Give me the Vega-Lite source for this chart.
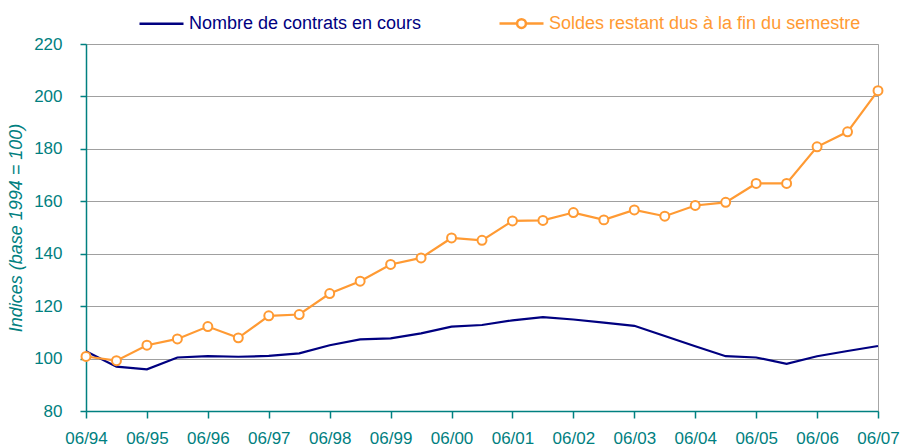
{
  "$schema": "https://vega.github.io/schema/vega-lite/v6.json",
  "width": 792,
  "height": 367,
  "autosize": "none",
  "padding": {"left": 86, "top": 44, "right": 23, "bottom": 37},
  "background": "white",
  "config": {
    "font": "Liberation Sans",
    "view": {"stroke": "#A6A6A6", "strokeWidth": 1}
  },
  "data": {
    "values": [
      {"periode": "06/94", "serie": "Nombre de contrats en cours", "indice": 102.8},
      {"periode": "12/94", "serie": "Nombre de contrats en cours", "indice": 96.9},
      {"periode": "06/95", "serie": "Nombre de contrats en cours", "indice": 95.9},
      {"periode": "12/95", "serie": "Nombre de contrats en cours", "indice": 100.4},
      {"periode": "06/96", "serie": "Nombre de contrats en cours", "indice": 100.9},
      {"periode": "12/96", "serie": "Nombre de contrats en cours", "indice": 100.7},
      {"periode": "06/97", "serie": "Nombre de contrats en cours", "indice": 101.0},
      {"periode": "12/97", "serie": "Nombre de contrats en cours", "indice": 102.0},
      {"periode": "06/98", "serie": "Nombre de contrats en cours", "indice": 105.1},
      {"periode": "12/98", "serie": "Nombre de contrats en cours", "indice": 107.3},
      {"periode": "06/99", "serie": "Nombre de contrats en cours", "indice": 107.7},
      {"periode": "12/99", "serie": "Nombre de contrats en cours", "indice": 109.6},
      {"periode": "06/00", "serie": "Nombre de contrats en cours", "indice": 112.2},
      {"periode": "12/00", "serie": "Nombre de contrats en cours", "indice": 112.8},
      {"periode": "06/01", "serie": "Nombre de contrats en cours", "indice": 114.6},
      {"periode": "12/01", "serie": "Nombre de contrats en cours", "indice": 115.8},
      {"periode": "06/02", "serie": "Nombre de contrats en cours", "indice": 114.9},
      {"periode": "12/02", "serie": "Nombre de contrats en cours", "indice": 113.7},
      {"periode": "06/03", "serie": "Nombre de contrats en cours", "indice": 112.5},
      {"periode": "12/03", "serie": "Nombre de contrats en cours", "indice": 108.6},
      {"periode": "06/04", "serie": "Nombre de contrats en cours", "indice": 104.7},
      {"periode": "12/04", "serie": "Nombre de contrats en cours", "indice": 100.9},
      {"periode": "06/05", "serie": "Nombre de contrats en cours", "indice": 100.4},
      {"periode": "12/05", "serie": "Nombre de contrats en cours", "indice": 98.0},
      {"periode": "06/06", "serie": "Nombre de contrats en cours", "indice": 100.9},
      {"periode": "12/06", "serie": "Nombre de contrats en cours", "indice": 102.9},
      {"periode": "06/07", "serie": "Nombre de contrats en cours", "indice": 104.8},
      {"periode": "06/94", "serie": "Soldes restant dus à la fin du semestre", "indice": 100.8},
      {"periode": "12/94", "serie": "Soldes restant dus à la fin du semestre", "indice": 99.2},
      {"periode": "06/95", "serie": "Soldes restant dus à la fin du semestre", "indice": 105.1},
      {"periode": "12/95", "serie": "Soldes restant dus à la fin du semestre", "indice": 107.5},
      {"periode": "06/96", "serie": "Soldes restant dus à la fin du semestre", "indice": 112.2},
      {"periode": "12/96", "serie": "Soldes restant dus à la fin du semestre", "indice": 107.9},
      {"periode": "06/97", "serie": "Soldes restant dus à la fin du semestre", "indice": 116.3},
      {"periode": "12/97", "serie": "Soldes restant dus à la fin du semestre", "indice": 116.8},
      {"periode": "06/98", "serie": "Soldes restant dus à la fin du semestre", "indice": 124.8},
      {"periode": "12/98", "serie": "Soldes restant dus à la fin du semestre", "indice": 129.5},
      {"periode": "06/99", "serie": "Soldes restant dus à la fin du semestre", "indice": 135.9},
      {"periode": "12/99", "serie": "Soldes restant dus à la fin du semestre", "indice": 138.4},
      {"periode": "06/00", "serie": "Soldes restant dus à la fin du semestre", "indice": 146.0},
      {"periode": "12/00", "serie": "Soldes restant dus à la fin du semestre", "indice": 145.1},
      {"periode": "06/01", "serie": "Soldes restant dus à la fin du semestre", "indice": 152.5},
      {"periode": "12/01", "serie": "Soldes restant dus à la fin du semestre", "indice": 152.7},
      {"periode": "06/02", "serie": "Soldes restant dus à la fin du semestre", "indice": 155.7},
      {"periode": "12/02", "serie": "Soldes restant dus à la fin du semestre", "indice": 152.9},
      {"periode": "06/03", "serie": "Soldes restant dus à la fin du semestre", "indice": 156.7},
      {"periode": "12/03", "serie": "Soldes restant dus à la fin du semestre", "indice": 154.3},
      {"periode": "06/04", "serie": "Soldes restant dus à la fin du semestre", "indice": 158.4},
      {"periode": "12/04", "serie": "Soldes restant dus à la fin du semestre", "indice": 159.6},
      {"periode": "06/05", "serie": "Soldes restant dus à la fin du semestre", "indice": 166.8},
      {"periode": "12/05", "serie": "Soldes restant dus à la fin du semestre", "indice": 166.8},
      {"periode": "06/06", "serie": "Soldes restant dus à la fin du semestre", "indice": 180.8},
      {"periode": "12/06", "serie": "Soldes restant dus à la fin du semestre", "indice": 186.5},
      {"periode": "06/07", "serie": "Soldes restant dus à la fin du semestre", "indice": 202.2}
    ]
  },
  "encoding": {
    "x": {
      "field": "periode",
      "type": "ordinal",
      "sort": null,
      "scale": {"type": "point", "padding": 0},
      "axis": {
        "title": null,
        "values": ["06/94", "06/95", "06/96", "06/97", "06/98", "06/99", "06/00", "06/01", "06/02", "06/03", "06/04", "06/05", "06/06", "06/07"],
        "labelAngle": 0,
        "labelFontSize": 17,
        "labelColor": "#008080",
        "labelPadding": 12,
        "tickColor": "#008080",
        "tickSize": 7,
        "tickWidth": 1.5,
        "domainColor": "#008080",
        "domainWidth": 1.5,
        "grid": false
      }
    },
    "y": {
      "field": "indice",
      "type": "quantitative",
      "scale": {"domain": [80, 220], "nice": false, "zero": false},
      "axis": {
        "title": "Indices (base 1994 = 100)",
        "titleFontSize": 18,
        "titleFontStyle": "italic",
        "titleFontWeight": "normal",
        "titleColor": "#008080",
        "titlePadding": 8,
        "values": [80, 100, 120, 140, 160, 180, 200, 220],
        "labelFontSize": 17,
        "labelColor": "#008080",
        "labelPadding": 18,
        "tickColor": "#008080",
        "tickSize": 6,
        "tickWidth": 1.5,
        "domainColor": "#008080",
        "domainWidth": 1.5,
        "gridColor": "#A0A0A0",
        "gridWidth": 1,
        "gridOpacity": 1
      }
    }
  },
  "layer": [
    {
      "mark": {"type": "line", "strokeWidth": 2.2},
      "encoding": {
        "color": {
          "field": "serie",
          "type": "nominal",
          "scale": {
            "domain": ["Nombre de contrats en cours", "Soldes restant dus à la fin du semestre"],
            "range": ["#000080", "#FF9A33"]
          },
          "legend": {
            "title": null,
            "orient": "none",
            "legendX": 52,
            "legendY": -44,
            "direction": "horizontal",
            "symbolType": "stroke",
            "symbolSize": 1936,
            "symbolStrokeWidth": 2.5,
            "labelFontSize": 18,
            "labelOffset": 4,
            "columnPadding": 72,
            "labelLimit": 400,
            "encode": {
              "labels": {
                "update": {
                  "fill": {"signal": "datum.value == 'Nombre de contrats en cours' ? '#000080' : '#FF9A33'"}
                }
              },
              "symbols": {
                "update": {
                  "shape": {"signal": "datum.value == 'Nombre de contrats en cours' ? 'stroke' : 'M-1,0L-0.2,0M0.2,0L1,0M-0.2,0A0.2,0.2,0,1,1,0.2,0A0.2,0.2,0,1,1,-0.2,0'"}
                }
              }
            }
          }
        }
      }
    },
    {
      "transform": [{"filter": "datum.serie == 'Soldes restant dus à la fin du semestre'"}],
      "mark": {"type": "point", "shape": "circle", "size": 80, "filled": false, "fill": "white", "fillOpacity": 1, "stroke": "#FF9A33", "strokeWidth": 2, "opacity": 1}
    }
  ]
}
